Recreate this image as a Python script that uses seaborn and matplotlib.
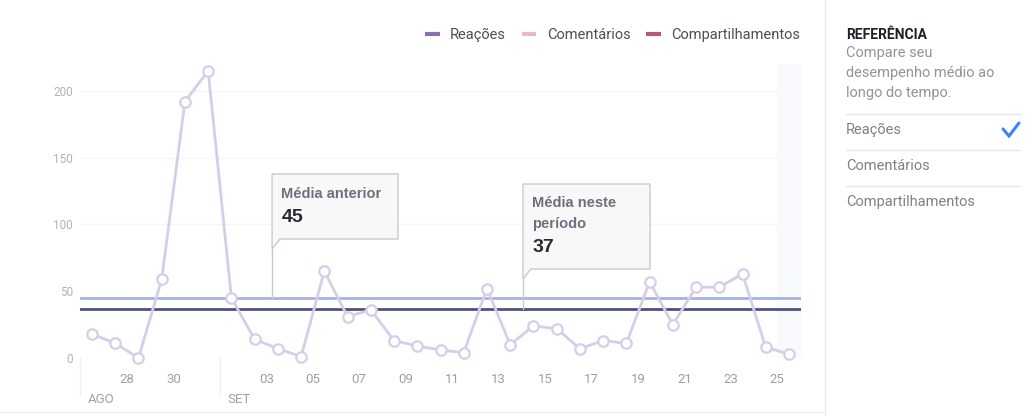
import matplotlib
matplotlib.use("Agg")
import matplotlib.pyplot as plt
from matplotlib.lines import Line2D
from matplotlib.patches import PathPatch
from matplotlib.path import Path
import matplotlib.transforms as mtransforms
import seaborn as sns
import pandas as pd

# Daily reactions, 26 Aug - 25 Sep
days = [26, 27, 28, 29, 30, 31, 1, 2, 3, 4, 5, 6, 7, 8, 9, 10, 11, 12, 13, 14,
        15, 16, 17, 18, 19, 20, 21, 22, 23, 24, 25]
reacoes = [18, 11, 0, 59, 192, 215, 45, 14, 7, 1, 65, 31, 36, 13, 9, 6, 4, 52,
           10, 24, 22, 7, 13, 11, 57, 25, 53, 53, 63, 8, 3]
tick_days = ["28", "30", "03", "05", "07", "09", "11", "13", "15", "17", "19",
             "21", "23", "25"]
months = [("AGO", 0), ("SET", 6)]          # label, index of first day of month
y_ticks = [0, 50, 100, 150, 200]
media_anterior = 45
media_periodo = 37
legend_labels = ["Reações", "Comentários", "Compartilhamentos"]
legend_colors = ["#8e6fb5", "#e8b9c9", "#b45a7e"]
menu_items = ["Reações", "Comentários", "Compartilhamentos"]

sns.set_theme(style="white")
plt.rcParams["font.family"] = ["Roboto", "DejaVu Sans"]
BOX_FONT = ["Liberation Sans", "DejaVu Sans"]

W, H = 1033, 416
fig = plt.figure(figsize=(W / 100, H / 100), dpi=100)
fig.patch.set_facecolor("white")

ax = fig.add_axes([80.4 / W, 58 / H, 720.2 / W, 293 / H])
ax.set_facecolor("white")

df = pd.DataFrame({"idx": range(len(days)), "reacoes": reacoes})

lav = "#d8cde8"
# faint grid
for v in y_ticks[2:]:
    ax.plot([-0.5, len(days) - 0.62], [v, v], color="#f5f5f7", lw=1, zorder=0)
# lighter band for the current (incomplete) day
ax.axvspan(len(days) - 1.5, len(days) - 0.5, color="#f9fafd", zorder=0, lw=0)

sns.lineplot(data=df, x="idx", y="reacoes", ax=ax, color=lav, linewidth=2,
             marker="o", markersize=7.5, markerfacecolor="white",
             markeredgecolor=lav, markeredgewidth=1.6, clip_on=False, zorder=4)

ax.axhline(media_anterior, color="#a2b5d9", lw=2, zorder=3)
ax.axhline(media_periodo, color="#4b5577", lw=2, zorder=3)

ax.set_xlim(-0.5, len(days) - 0.5)
ax.set_ylim(0, 219.4)
ax.set_xlabel("")
ax.set_ylabel("")
for s in ax.spines.values():
    s.set_visible(False)

ax.set_yticks(y_ticks)
ax.set_yticklabels([str(v) for v in y_ticks])
ax.tick_params(axis="y", length=0, pad=5.5, labelsize=8.5, labelcolor="#b3b3b3")

# tick positions sit at the midnight boundary before each labelled day
labels_day = [f"{d:02d}" for d in days]
tick_pos = []
used = set()
for lab in tick_days:
    for i, d in enumerate(labels_day):
        if d == lab and i not in used:
            tick_pos.append(i - 0.5)
            used.add(i)
            break
ax.set_xticks(tick_pos)
ax.set_xticklabels(tick_days)
ax.tick_params(axis="x", length=0, pad=10.5, labelsize=9.5, labelcolor="#a0a0a0")

# month boundaries and labels
blend = mtransforms.blended_transform_factory(ax.transData, ax.transAxes)
for name, i in months:
    ax.plot([i - 0.5, i - 0.5], [0.0, -0.13], transform=blend, color="#f0f0f0",
            lw=1, clip_on=False)
    ax.text(i - 0.5 + 0.33, -0.143, name, transform=blend, ha="left", va="center",
            fontsize=9.5, color="#a0a0a0")


def bubble(L, R, T, B, y_end):
    nw, nh = 0.34, 7.5
    verts = [(L, T), (R, T), (R, B), (L + nw, B), (L, B - nh), (L, T), (L, T)]
    codes = [Path.MOVETO] + [Path.LINETO] * 5 + [Path.CLOSEPOLY]
    ax.add_patch(PathPatch(Path(verts, codes), facecolor="#f8f8f9",
                           edgecolor="#c9cbcf", lw=1, zorder=5))
    ax.plot([L, L], [B - nh, y_end], color="#c9cbcf", lw=1, zorder=5)
    return L + 0.4


# "Média anterior" bubble
x0 = bubble(7.75, 13.17, 137.8, 89.1, media_anterior)
ax.text(x0, 122.8, "Média anterior", fontsize=10.5, fontweight="bold",
        family=BOX_FONT, color="#6e717d", va="center", ha="left", zorder=6)
ax.text(x0, 105.2, f"{media_anterior}", fontsize=14, fontweight="bold",
        family=BOX_FONT, color="#272a30", va="center", ha="left", zorder=6)

# "Média neste período" bubble
x1 = bubble(18.55, 24.02, 130.3, 66.6, media_periodo)
ax.text(x1, 116.0, "Média neste", fontsize=10.5, fontweight="bold",
        family=BOX_FONT, color="#6e717d", va="center", ha="left", zorder=6)
ax.text(x1, 100.3, "período", fontsize=10.5, fontweight="bold",
        family=BOX_FONT, color="#6e717d", va="center", ha="left", zorder=6)
ax.text(x1, 82.8, f"{media_periodo}", fontsize=14, fontweight="bold",
        family=BOX_FONT, color="#272a30", va="center", ha="left", zorder=6)

# legend
handles = [Line2D([], [], color=c, lw=3, solid_capstyle="butt") for c in legend_colors]
fig.legend(handles, legend_labels, loc="center right",
           bbox_to_anchor=(800 / W, 1 - 35 / H), ncol=3, frameon=False,
           fontsize=10.5, handlelength=1.0, handletextpad=0.7,
           columnspacing=1.1, borderpad=0, borderaxespad=0,
           labelcolor="#4b4f56")

# right panel
fig.add_artist(Line2D([825 / W, 825 / W], [0, 1], color="#e9ebee", lw=1))
fig.add_artist(Line2D([0, 825 / W], [1 - 412 / H, 1 - 412 / H], color="#eeeff2", lw=1))


def fy(y):
    return 1 - y / H


fig.text(846 / W, fy(35), "REFERÊNCIA", fontsize=10, fontweight="bold",
         color="#1d2129", va="center", ha="left")
for y, t in [(53, "Compare seu"), (73, "desempenho médio ao"), (93, "longo do tempo.")]:
    fig.text(846 / W, fy(y), t, fontsize=10.5, color="#90949c", va="center", ha="left")
for y in [114, 150, 186]:
    fig.add_artist(Line2D([846 / W, 1020 / W], [fy(y), fy(y)], color="#e5e6e9", lw=1))
for y, t in zip([130, 166, 202], menu_items):
    fig.text(846 / W, fy(y), t, fontsize=10.5, color="#7f8185", va="center", ha="left")
fig.add_artist(Line2D([1003 / W, 1009 / W, 1019 / W], [fy(129), fy(136), fy(123)],
                      color="#4080ff", lw=2.2, solid_joinstyle="miter"))

fig.savefig("out.png", dpi=100, facecolor="white")
